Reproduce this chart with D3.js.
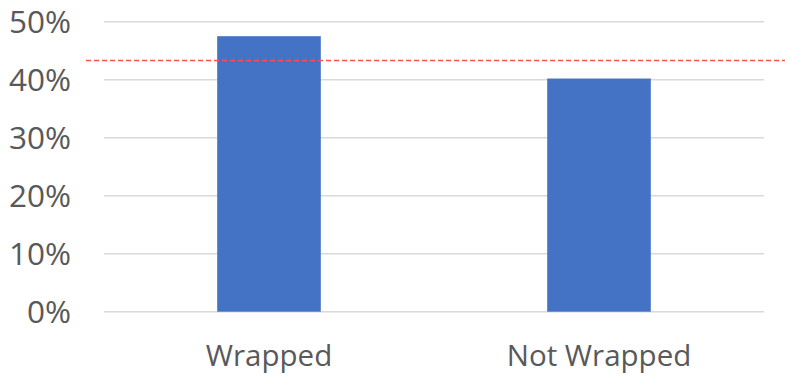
<!DOCTYPE html>
<html>
<head>
<meta charset="utf-8">
<script src="https://cdn.jsdelivr.net/npm/d3@7"></script>
<style>
  html, body { margin: 0; padding: 0; background: #fff; }
  svg { display: block; }
</style>
</head>
<body>
<svg id="chart" width="785" height="376"></svg>
<script>
// Share of responses per group, with the overall average as a reference line
const categories = ["Wrapped", "Not Wrapped"];
const values = [0.475, 0.402];
const referenceValue = 0.433;
const yTicks = [0, 0.1, 0.2, 0.3, 0.4, 0.5];

const svg = d3.select("#chart");
const plot = { left: 104, right: 764, top: 21.7, bottom: 311.7 };

const x = d3.scaleBand()
  .domain(categories)
  .range([plot.left, plot.right])
  .paddingInner(0.686)
  .paddingOuter(0.343);

const y = d3.scaleLinear()
  .domain([0, 0.5])
  .range([plot.bottom, plot.top]);

const pct = d3.format(".0%");

// Horizontal gridlines
svg.append("g")
  .selectAll("line")
  .data(yTicks)
  .join("line")
  .attr("x1", plot.left)
  .attr("x2", plot.right)
  .attr("y1", d => y(d))
  .attr("y2", d => y(d))
  .attr("stroke", "#d9d9d9")
  .attr("stroke-width", 1.5);

// Y axis labels
svg.append("g")
  .selectAll("text")
  .data(yTicks)
  .join("text")
  .attr("x", 71)
  .attr("y", d => y(d) + 11)
  .attr("text-anchor", "end")
  .attr("font-family", "'Open Sans', sans-serif")
  .attr("font-size", 31.5)
  .attr("fill", "#595959")
  .text(d => pct(d));

// Bars
svg.append("g")
  .selectAll("rect")
  .data(categories)
  .join("rect")
  .attr("x", d => x(d))
  .attr("width", x.bandwidth())
  .attr("y", (d, i) => y(values[i]))
  .attr("height", (d, i) => y(0) - y(values[i]))
  .attr("fill", "#4472c4");

// Category labels
svg.append("g")
  .selectAll("text")
  .data(categories)
  .join("text")
  .attr("x", d => x(d) + x.bandwidth() / 2)
  .attr("y", 366)
  .attr("text-anchor", "middle")
  .attr("font-family", "'Open Sans', sans-serif")
  .attr("font-size", 29.5)
  .attr("fill", "#595959")
  .text(d => d);

// Average reference line
svg.append("line")
  .attr("x1", 86)
  .attr("x2", 785)
  .attr("y1", y(referenceValue))
  .attr("y2", y(referenceValue))
  .attr("stroke", "#ff5050")
  .attr("stroke-width", 1.5)
  .attr("stroke-dasharray", "5,3");
</script>
</body>
</html>
